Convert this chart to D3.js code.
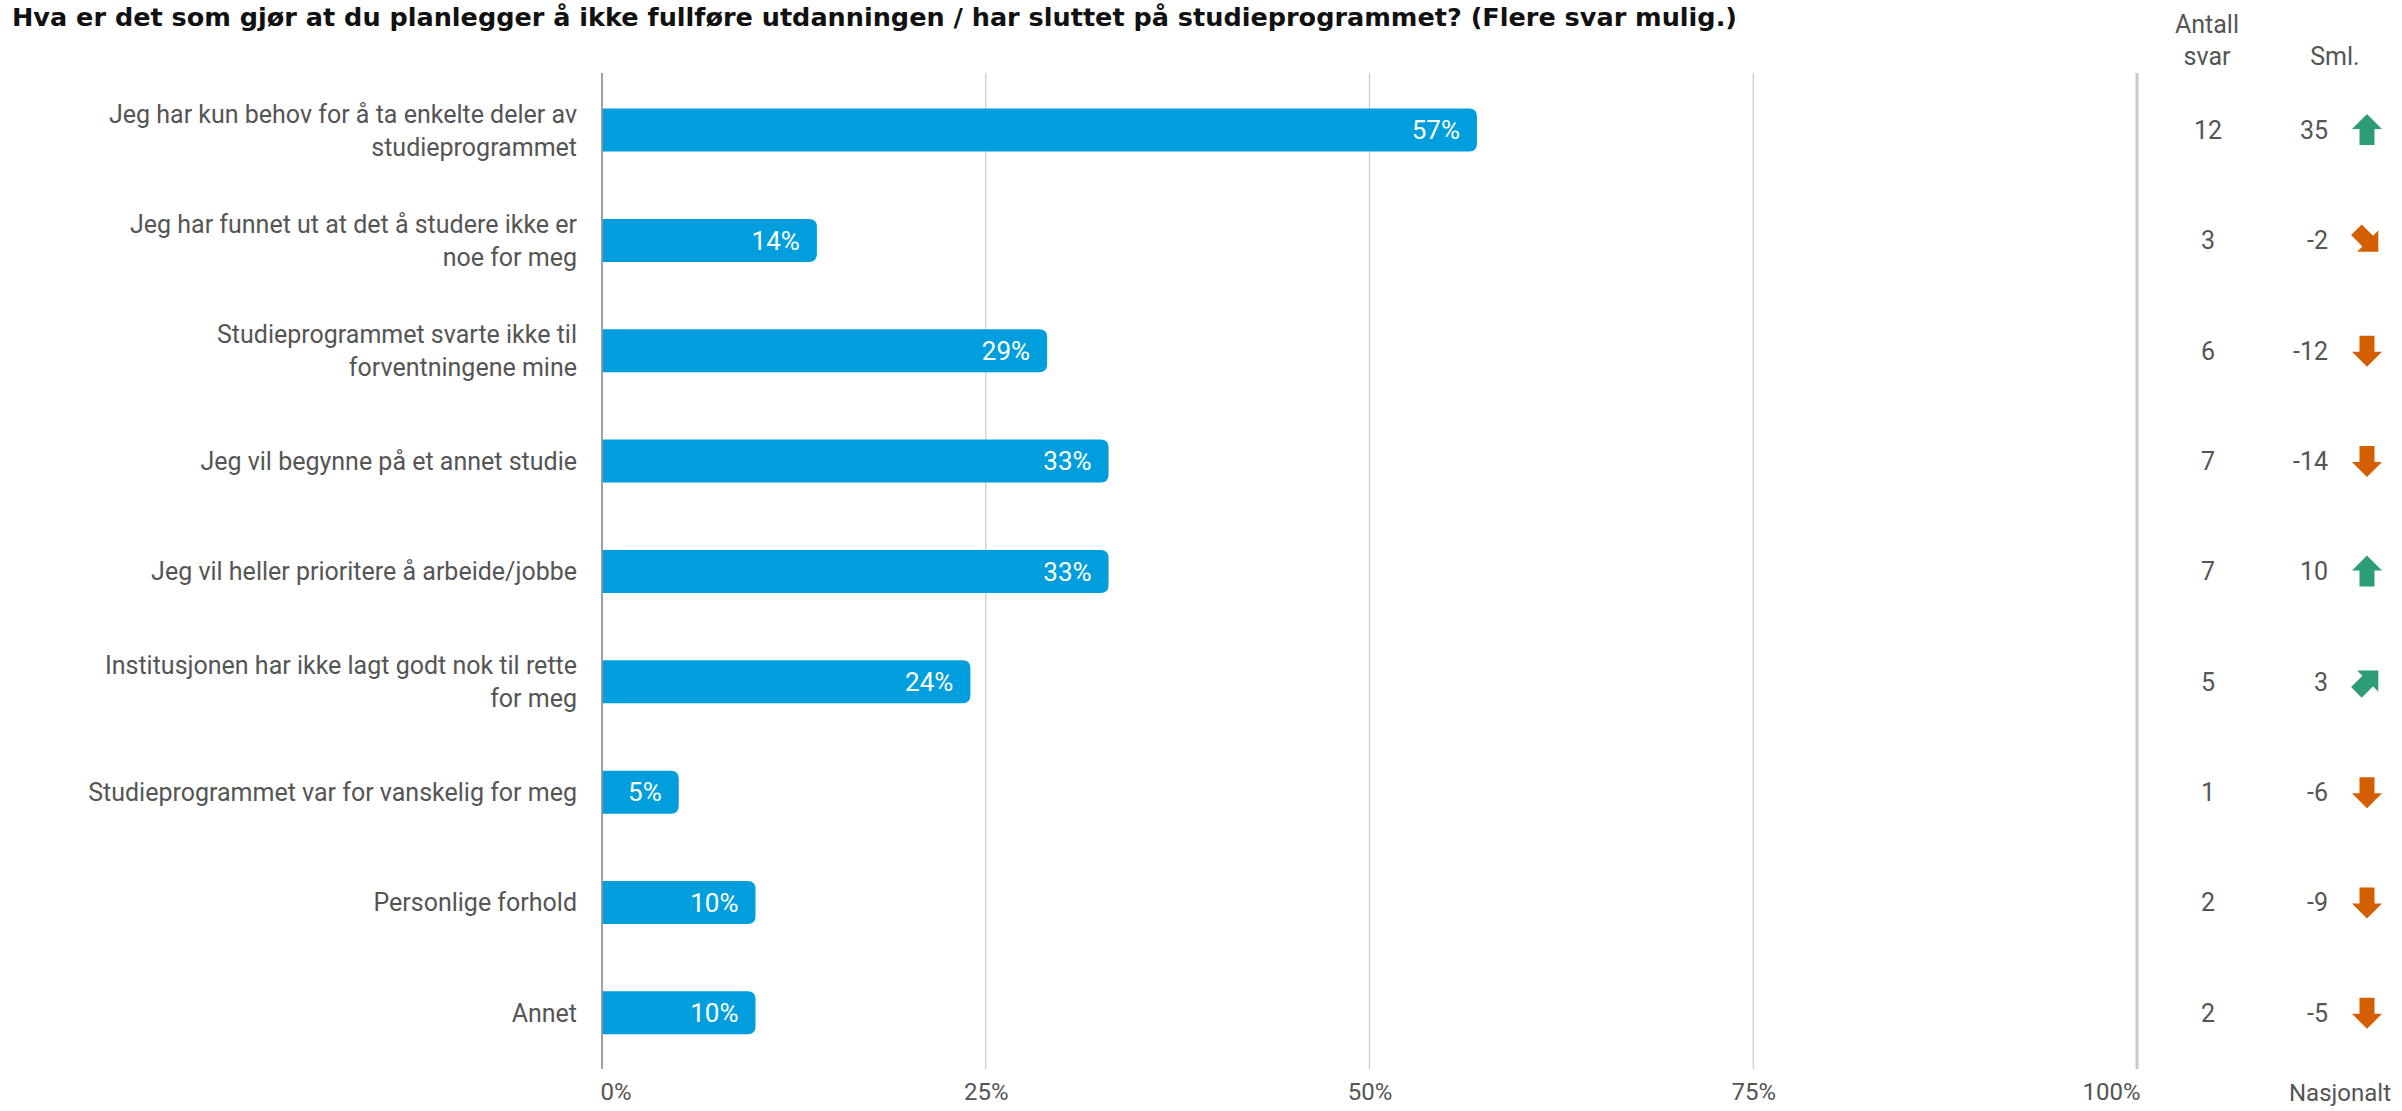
<!DOCTYPE html>
<html>
<head>
<meta charset="utf-8">
<script src="https://cdn.jsdelivr.net/npm/d3@7"></script>
<style>
  html, body { margin: 0; padding: 0; background: #fff; }
  svg { display: block; }
</style>
</head>
<body>
<svg id="chart" width="2402" height="1111"></svg>
<script>
const title = "Hva er det som gjør at du planlegger å ikke fullføre utdanningen / har sluttet på studieprogrammet? (Flere svar mulig.)";
const categories = [
  ["Jeg har kun behov for å ta enkelte deler av", "studieprogrammet"],
  ["Jeg har funnet ut at det å studere ikke er", "noe for meg"],
  ["Studieprogrammet svarte ikke til", "forventningene mine"],
  ["Jeg vil begynne på et annet studie"],
  ["Jeg vil heller prioritere å arbeide/jobbe"],
  ["Institusjonen har ikke lagt godt nok til rette", "for meg"],
  ["Studieprogrammet var for vanskelig for meg"],
  ["Personlige forhold"],
  ["Annet"]
];
const percentValues = [57, 14, 29, 33, 33, 24, 5, 10, 10];
const antallSvar = [12, 3, 6, 7, 7, 5, 1, 2, 2];
const smlValues = [35, -2, -12, -14, 10, 3, -6, -9, -5];
const xTicks = [0, 25, 50, 75, 100];
const xTickLabels = ["0%", "25%", "50%", "75%", "100%"];

const svg = d3.select("#chart");
const textColor = "#555555";
const barColor = "#019EDE";
const green = "#2C9D76";
const orange = "#D45F00";

const x = d3.scaleLinear().domain([0, 100]).range([602, 2137]);
const keys = categories.map((d, i) => i);
const y = d3.scalePoint().domain(keys).range([74.85, 1068]).padding(0.5);
const barH = 43;
const gridTop = 73, gridBottom = 1069;

// Title
svg.append("text")
  .attr("x", 12).attr("y", 26)
  .attr("font-family", "DejaVu Sans")
  .attr("font-weight", "bold")
  .attr("font-size", 24)
  .attr("fill", "#111")
  .attr("textLength", 1725)
  .attr("lengthAdjust", "spacingAndGlyphs")
  .text(title);

// Gridlines
const grid = svg.append("g");
grid.selectAll("line").data(xTicks).join("line")
  .attr("x1", d => x(d)).attr("x2", d => x(d))
  .attr("y1", gridTop).attr("y2", gridBottom)
  .attr("stroke", d => d === 0 ? "#9a9a9a" : "#c8c8c8")
  .attr("stroke-width", d => d === 100 ? 3 : (d === 0 ? 1.5 : 1.2));

// Tick labels via axis
const axis = d3.axisBottom(x).tickValues(xTicks).tickFormat((d, i) => xTickLabels[i]).tickSize(0).tickPadding(0);
const axG = svg.append("g").attr("transform", `translate(0, ${1083})`).call(axis);
axG.select(".domain").remove();
axG.selectAll("text")
  .attr("font-family", "Roboto")
  .attr("font-size", 24)
  .attr("fill", textColor)
  .attr("dy", "0.71em")
  .attr("text-anchor", (d, i) => i === 0 ? "start" : (i === xTicks.length - 1 ? "end" : "middle"))
  .attr("dx", (d, i) => i === 0 ? -2 : (i === xTicks.length - 1 ? 3 : 0));

// Bars with rounded right end
function barPath(v, cy) {
  const x0 = x(0), x1 = x(v), t = cy - barH / 2, b = cy + barH / 2;
  const r = Math.min(8, (x1 - x0) / 2);
  return `M${x0},${t}H${x1 - r}Q${x1},${t} ${x1},${t + r}V${b - r}Q${x1},${b} ${x1 - r},${b}H${x0}Z`;
}
svg.append("g").selectAll("path").data(percentValues).join("path")
  .attr("d", (d, i) => barPath(d, y(i)))
  .attr("fill", barColor);

// Redraw 0 axis over bars
svg.append("line")
  .attr("x1", x(0)).attr("x2", x(0)).attr("y1", gridTop).attr("y2", gridBottom)
  .attr("stroke", "#9a9a9a").attr("stroke-width", 1.5);

// Value labels
svg.append("g").selectAll("text").data(percentValues).join("text")
  .attr("x", d => x(d) - 17)
  .attr("y", (d, i) => y(i))
  .attr("dy", "0.36em")
  .attr("text-anchor", "end")
  .attr("font-family", "Roboto")
  .attr("font-size", 26)
  .attr("fill", "#fff")
  .text(d => d + "%");

// Category labels
const catG = svg.append("g");
categories.forEach((lines, i) => {
  const cy = y(i);
  const lh = 33;
  const t = catG.append("text")
    .attr("text-anchor", "end")
    .attr("font-family", "Roboto")
    .attr("font-size", 25)
    .attr("fill", textColor);
  lines.forEach((ln, j) => {
    t.append("tspan")
      .attr("x", 577)
      .attr("y", cy + (j - (lines.length - 1) / 2) * lh)
      .attr("dy", "0.36em")
      .text(ln);
  });
});

// Column headers
const hdr = svg.append("g").attr("font-family", "Roboto").attr("font-size", 25).attr("fill", textColor).attr("text-anchor", "middle");
hdr.append("text").attr("x", 2207).attr("y", 33).text("Antall");
hdr.append("text").attr("x", 2207).attr("y", 65).text("svar");
hdr.append("text").attr("x", 2335).attr("y", 65).text("Sml.");
hdr.append("text").attr("x", 2340).attr("y", 1101).attr("font-size", 24).text("Nasjonalt");

// Counts
svg.append("g").selectAll("text").data(antallSvar).join("text")
  .attr("x", 2208).attr("y", (d, i) => y(i)).attr("dy", "0.36em")
  .attr("text-anchor", "middle")
  .attr("font-family", "Roboto").attr("font-size", 25).attr("fill", textColor)
  .text(d => d);

// Sml values
svg.append("g").selectAll("text").data(smlValues).join("text")
  .attr("x", 2328).attr("y", (d, i) => y(i)).attr("dy", "0.36em")
  .attr("text-anchor", "end")
  .attr("font-family", "Roboto").attr("font-size", 25).attr("fill", textColor)
  .text(d => d);

// Arrows
const arrowPath = "M0,-16 L15,-1 L7.5,-1 L7.5,15 L-7.5,15 L-7.5,-1 L-15,-1 Z";
function arrowAngle(d) {
  if (d >= 5) return 0;
  if (d > 0) return 45;
  if (d > -5) return 135;
  return 180;
}
svg.append("g").selectAll("path").data(smlValues).join("path")
  .attr("d", arrowPath)
  .attr("transform", (d, i) => `translate(2367, ${y(i)}) rotate(${arrowAngle(d)})`)
  .attr("fill", d => d > 0 ? green : orange);
</script>
</body>
</html>
